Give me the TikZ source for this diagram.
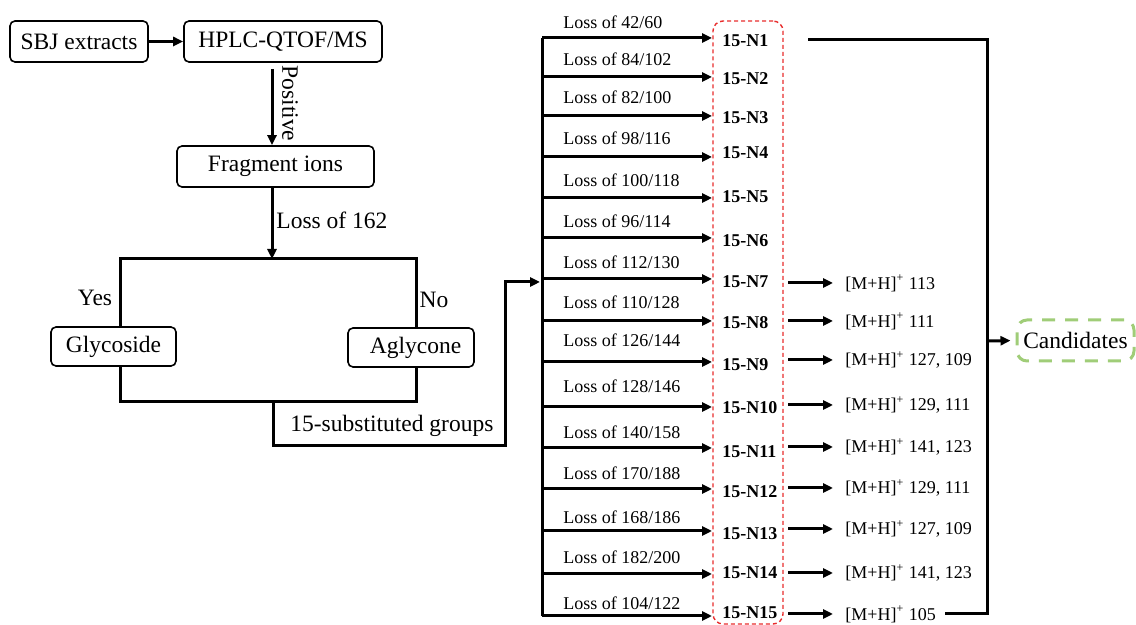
\documentclass[tikz,border=0pt]{standalone}
\usepackage{fontspec}
\setmainfont{Liberation Serif}
\usetikzlibrary{arrows.meta}
\definecolor{cgreen}{RGB}{160,205,120}
\definecolor{cred}{RGB}{232,45,45}
\begin{document}
\begin{tikzpicture}[x=0.5pt,y=-0.5pt,
  big/.style={font=\fontsize{11.75}{14}\selectfont},
  small/.style={font=\fontsize{9}{11}\selectfont},
  smallbf/.style={font=\fontsize{9}{11}\selectfont\bfseries},
  box/.style={draw, rounded corners=2.5pt, line width=0.8pt, big, inner sep=0pt, minimum height=20.5pt},
  wire/.style={line width=1.5pt},
  arr/.style={line width=1.5pt, -{Triangle[length=5pt,width=4.5pt]}},
  lbl/.style={anchor=west, inner sep=0pt}]
\useasboundingbox (0,0) rectangle (1136,625);

% left part
\node[box, minimum width=69pt] (sbj) at (79,41.5) {SBJ extracts};
\node[box, minimum width=99pt] (hplc) at (283,41.5) {HPLC-QTOF/MS\hspace{9pt}};
\node[box, minimum width=98.5pt] (frag) at (275.5,166.5) {Fragment ions};
\node[box, minimum width=62.5pt, minimum height=19.5pt] (gly) at (113.5,346.5) {Glycoside};
\node[box, minimum width=63pt, minimum height=19.5pt] (agl) at (411,347.5) {\hspace{4.5pt}Aglycone};

\coordinate (ax) at (272,0);
\coordinate (xl) at (120,0);
\coordinate (xr) at (416,0);
\coordinate (top) at (272,259);

\draw[arr] (sbj) -- (hplc);
\draw[arr, shorten <=3pt] (hplc.south -| ax) -- (frag.north -| ax);
\node[big, rotate=-90, inner sep=0pt] (pos) at (290,103.5) {Positive};
\draw[arr] (frag.south -| ax) -- (top);
\node[big, lbl] (l162) at (276,220) {Loss of 162};

\draw[wire] (gly.north -| xl) -- (120,259) -- (416,259) -- (agl.north -| xr);
\draw[wire] (gly.south -| xl) -- (120,402) -- (416,402) -- (agl.south -| xr);
\node[big] (yes) at (95,298) {Yes};
\node[big] (no) at (434,300) {No};
\node[big, lbl] (subst) at (290,426) {15-substituted groups};

\draw[arr] (273,402) -- (273,446) -- (505,446) -- (505,282) -- (540,282);
\draw[wire] (542,38) -- (542,616);

% group box
\node[draw=cred, dashed, dash pattern=on 2pt off 1.5pt, line width=0.7pt, rounded corners=5pt,
      minimum width=35pt, minimum height=301.5pt, inner sep=0pt] (grp) at (748,322.5) {};

\foreach \ya/\yl/\yn/\la/\lb [count=\i] in {
  38/22/41/42/60, 77/59/79/84/102, 116/97/118/82/100, 157/138/153/98/116,
  198/180/197/100/118, 238/221/241/96/114, 279/262/282/112/130, 321/302/323/110/128,
  362/340/365/126/144, 407/386/408/128/146, 448/432/452/140/158, 489/473/492/170/188,
  531/517/534/168/186, 574/557/573/182/200, 616/603/613/104/122}{
  \draw[arr] (542,\ya) -- (712,\ya);
  \node[small, lbl] (loss\i) at (563,\yl) {Loss of \la/\lb};
  \node[smallbf, lbl] (n\i) at (722,\yn) {15-N\i};
}

\foreach \yr/\txt [count=\j from 7] in {283/113, 321/111, 360/{127, 109}, 405/{129, 111},
  447/{141, 123}, 488/{129, 111}, 529/{127, 109}, 573/{141, 123}, 614/105}{
  \draw[arr] (788,\yr) -- (833,\yr);
  \node[small, lbl] (mh\j) at (845,\yr) {[M+H]\textsuperscript{+} \txt};
}

\node[draw=cgreen, dashed, dash pattern=on 6.5pt off 5pt, line width=1.5pt, rounded corners=5pt,
      big, minimum width=58.5pt, minimum height=20.5pt, inner sep=0pt] (cand) at (1075.5,340.5) {Candidates};

\draw[wire] (808,40) -- (987,40) -- (987,614) -- (945,614);
\draw[arr, shorten >=2.5pt] (987,341) -- (cand.west);
\end{tikzpicture}
\end{document}
